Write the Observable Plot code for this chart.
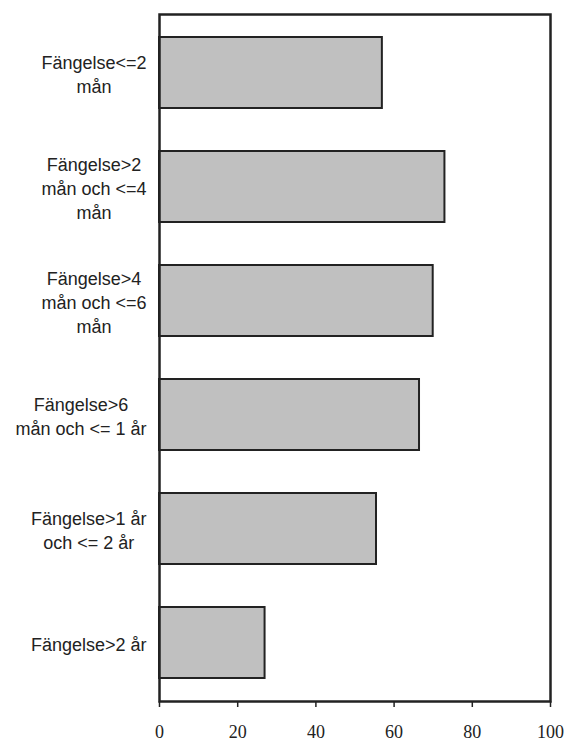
<!DOCTYPE html>
<html><head><meta charset="utf-8">
<script src="https://cdn.jsdelivr.net/npm/d3@7"></script>
<script src="https://cdn.jsdelivr.net/npm/@observablehq/plot@0.6"></script>
<style>body{margin:0;background:#fff}</style>
</head><body><div id="chart"></div>
<script>
const categories = [
  "Fängelse<=2\nmån",
  "Fängelse>2\nmån och <=4\nmån",
  "Fängelse>4\nmån och <=6\nmån",
  "Fängelse>6\nmån och <= 1 år",
  "Fängelse>1 år\noch <= 2 år",
  "Fängelse>2 år"
];
const values = [57, 73, 70, 66.5, 55.5, 27];
const xTicks = [0, 20, 40, 60, 80, 100];

const data = categories.map((c, i) => ({category: c, value: values[i]}));

const sansFamily = "'Liberation Sans', Arial, Helvetica, sans-serif";
const serifFamily = "'Liberation Serif', 'Times New Roman', serif";
const labelSize = 18;
const ctx = document.createElement("canvas").getContext("2d");
ctx.font = `${labelSize}px ${sansFamily}`;
const marginLeft = 159;
const labelRight = 146;

const labelMarks = data.map(d => {
  const w = d3.max(d.category.split("\n"), l => ctx.measureText(l).width);
  return Plot.text([d], {
    y: "category", text: "category",
    frameAnchor: "left", textAnchor: "middle", lineAnchor: "middle",
    lineHeight: 1.33, dx: labelRight - marginLeft - w / 2,
    fontSize: labelSize, fontFamily: sansFamily, fill: "#222"
  });
});

const chart = Plot.plot({
  width: 567, height: 744,
  marginLeft, marginRight: 17, marginTop: 14, marginBottom: 43,
  x: {domain: [0, 100]},
  y: {domain: categories, paddingInner: 0.38, paddingOuter: 0.19, axis: null},
  style: {background: "#fff", color: "#222"},
  marks: [
    Plot.barX(data, {x: "value", y: "category", fill: "#c0c0c0", stroke: "#222", strokeWidth: 2}),
    Plot.frame({stroke: "#222", strokeWidth: 2.5}),
    Plot.axisX({ticks: xTicks, tickSize: 6, tickPadding: 18, tickFormat: d => d, fontSize: 18, fontFamily: serifFamily, strokeWidth: 1.5, label: null}),
    ...labelMarks
  ]
});
document.getElementById("chart").appendChild(chart);
</script>
</body></html>
